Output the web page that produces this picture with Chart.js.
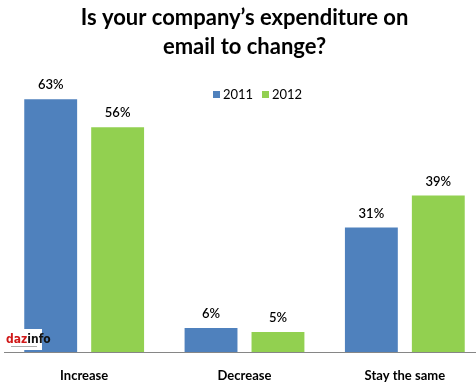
<!DOCTYPE html>
<html lang="en">
  <head>
    <meta charset="UTF-8" />
    <title>Email expenditure</title>
    <script src="https://cdn.jsdelivr.net/npm/chart.js@4.4.0/dist/chart.umd.min.js"></script>
    <style>
      html, body {
        margin: 0;
        padding: 0;
        background: white;
        overflow: hidden;
      }
      .chart-container {
        width: 490px;
        height: 388px;
      }
    </style>
  </head>
  <body>
    <div class="chart-container">
      <canvas id="myChart"></canvas>
    </div>

    <script>
      const categories = ["Increase", "Decrease", "Stay the same"];
      const years = ["2011", "2012"];
      const values2011 = [63, 6, 31];
      const values2012 = [56, 5, 39];
      const colors = ["#4F81BD", "#92D050"];

      const FONT = "Lato, 'Open Sans', sans-serif";

      // labels over bars, legend inside the plot, and the little logo
      const extras = {
        id: "extras",
        afterDatasetsDraw(chart) {
          const ctx = chart.ctx;
          ctx.save();
          ctx.fillStyle = "#000";
          ctx.font = "600 13px " + FONT;
          ctx.textAlign = "center";
          ctx.textBaseline = "middle";
          chart.data.datasets.forEach((ds, i) => {
            chart.getDatasetMeta(i).data.forEach((bar, j) => {
              ctx.fillText(ds.data[j] + "%", bar.x, bar.y - 14);
            });
          });

          // legend
          ctx.font = "13px " + FONT;
          ctx.textAlign = "left";
          let x = 213;
          chart.data.datasets.forEach((ds) => {
            ctx.fillStyle = ds.backgroundColor;
            ctx.fillRect(x, 91, 7, 7);
            ctx.fillStyle = "#000";
            ctx.fillText(ds.label, x + 10, 95);
            x += 49;
          });

          // logo
          ctx.fillStyle = "#fff";
          ctx.fillRect(5, 329, 37, 21);
          ctx.font = "bold 12px 'DejaVu Sans Condensed', 'DejaVu Sans', sans-serif";
          ctx.textBaseline = "alphabetic";
          ctx.fillStyle = "#d01818";
          ctx.fillText("daz", 6, 343);
          const w = ctx.measureText("daz").width;
          ctx.fillStyle = "#111";
          ctx.fillText("info", 6 + w, 343);
          ctx.fillStyle = "#aaa";
          ctx.fillRect(11, 346, 26, 1);
          ctx.restore();
        },
      };

      const ctx = document.getElementById("myChart").getContext("2d");
      const myChart = new Chart(ctx, {
        type: "bar",
        data: {
          labels: categories,
          datasets: [
            {
              label: years[0],
              data: values2011,
              backgroundColor: colors[0],
              categoryPercentage: 0.835,
              barPercentage: 0.79,
            },
            {
              label: years[1],
              data: values2012,
              backgroundColor: colors[1],
              categoryPercentage: 0.835,
              barPercentage: 0.79,
            },
          ],
        },
        options: {
          responsive: true,
          maintainAspectRatio: false,
          animation: false,
          layout: {
            padding: { left: 4, right: 5, top: 0, bottom: 0 },
          },
          scales: {
            x: {
              grid: { display: false, drawTicks: false },
              border: { display: true, color: "#868686", width: 1 },
              ticks: {
                color: "#000",
                padding: 16,
                font: { family: FONT, size: 13, weight: "bold" },
              },
              afterFit(scale) {
                scale.height = 36;
              },
            },
            y: {
              display: false,
              min: 0,
              max: 70,
            },
          },
          plugins: {
            legend: { display: false },
            tooltip: { enabled: false },
            title: {
              display: true,
              text: ["Is your company\u2019s expenditure on", "email to change?"],
              color: "#000",
              font: { family: FONT, size: 22, weight: "bold", lineHeight: 1.32 },
              padding: { top: 3, bottom: 10 },
            },
          },
        },
        plugins: [extras],
      });
    </script>
  </body>
</html>
